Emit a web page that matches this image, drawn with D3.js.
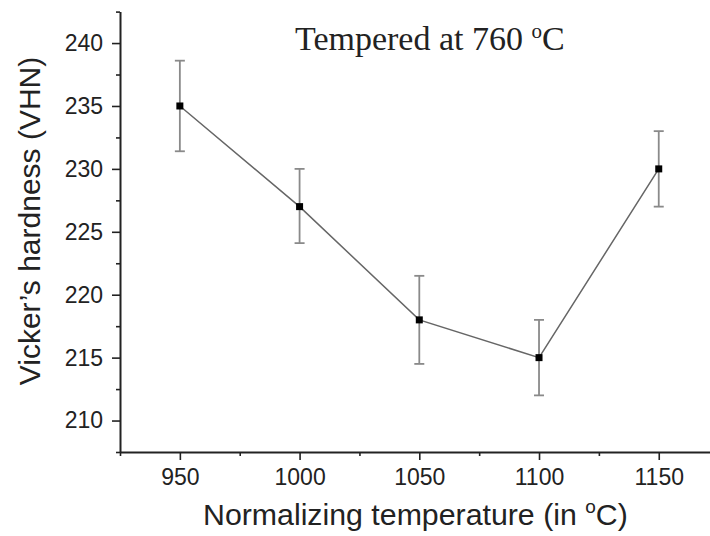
<!DOCTYPE html>
<html>
<head>
<meta charset="utf-8">
<script src="https://cdn.jsdelivr.net/npm/d3@7"></script>
<style>
  body { margin: 0; background: #fff; }
</style>
</head>
<body>
<div id="chart"></div>
<script>
// data
const temps = [950, 1000, 1050, 1100, 1150];
const hardness = [235, 227, 218, 215, 230];
const errUp = [3.6, 3.0, 3.5, 3.0, 3.0];
const errDown = [3.6, 2.9, 3.5, 3.0, 3.0];

const xTicks = [950, 1000, 1050, 1100, 1150];
const xMinor = [925, 975, 1025, 1075, 1125];
const yTicks = [210, 215, 220, 225, 230, 235, 240];
const yMinor = [207.5, 212.5, 217.5, 222.5, 227.5, 232.5, 237.5, 242.5];

const W = 710, H = 536;
const plotLeft = 120, plotBottom = 452, plotTop = 11.6;
const sans = '"Liberation Sans", Arial, sans-serif';

const svg = d3.select('#chart').append('svg')
  .attr('width', W)
  .attr('height', H);

const x = d3.scaleLinear().domain([925, 1175]).range([plotLeft, 718.6]);
const y = d3.scaleLinear().domain([207.5, 242.5]).range([plotBottom, plotTop]);

function styleAxis(g) {
  g.select('.domain').attr('stroke', '#222').attr('stroke-width', 2);
  g.selectAll('.tick line').attr('stroke', '#222').attr('stroke-width', 1.6);
  g.selectAll('.tick text')
    .attr('font-family', sans)
    .attr('font-size', 23)
    .attr('fill', '#222');
}

// minor ticks first, then major axes on top
svg.append('g')
  .attr('transform', `translate(0,${plotBottom})`)
  .call(d3.axisBottom(x).tickValues(xMinor).tickSize(4).tickFormat(''))
  .call(g => g.select('.domain').remove())
  .call(styleAxis);

svg.append('g')
  .attr('transform', `translate(${plotLeft},0)`)
  .call(d3.axisLeft(y).tickValues(yMinor).tickSize(4).tickFormat(''))
  .call(g => g.select('.domain').remove())
  .call(styleAxis);

svg.append('g')
  .attr('transform', `translate(0,${plotBottom})`)
  .call(d3.axisBottom(x).tickValues(xTicks).tickSize(8).tickSizeOuter(0).tickPadding(9).tickFormat(d3.format('d')))
  .call(styleAxis);

svg.append('g')
  .attr('transform', `translate(${plotLeft},0)`)
  .call(d3.axisLeft(y).tickValues(yTicks).tickSize(8).tickSizeOuter(0).tickPadding(9).tickFormat(d3.format('d')))
  .call(styleAxis);

const pts = temps.map((t, i) => ({ t: t, v: hardness[i], hi: hardness[i] + errUp[i], lo: hardness[i] - errDown[i] }));

// error bars
const eb = svg.append('g').attr('stroke', '#8a8a8a').attr('stroke-width', 1.8).attr('fill', 'none');
eb.selectAll('.eb-v').data(pts).enter().append('line')
  .attr('x1', d => x(d.t)).attr('x2', d => x(d.t))
  .attr('y1', d => y(d.hi)).attr('y2', d => y(d.lo));
eb.selectAll('.eb-top').data(pts).enter().append('line')
  .attr('x1', d => x(d.t) - 5).attr('x2', d => x(d.t) + 5)
  .attr('y1', d => y(d.hi)).attr('y2', d => y(d.hi));
eb.selectAll('.eb-bot').data(pts).enter().append('line')
  .attr('x1', d => x(d.t) - 5).attr('x2', d => x(d.t) + 5)
  .attr('y1', d => y(d.lo)).attr('y2', d => y(d.lo));

// connecting line
const line = d3.line().x(d => x(d.t)).y(d => y(d.v));
svg.append('path')
  .datum(pts)
  .attr('d', line)
  .attr('fill', 'none')
  .attr('stroke', '#666')
  .attr('stroke-width', 1.5);

// square markers
svg.selectAll('.pt').data(pts).enter().append('rect')
  .attr('x', d => x(d.t) - 3.5)
  .attr('y', d => y(d.v) - 3.5)
  .attr('width', 7).attr('height', 7)
  .attr('fill', '#000');

// title
const title = svg.append('text')
  .attr('x', 295).attr('y', 50)
  .attr('font-family', '"Liberation Serif", "Times New Roman", serif')
  .attr('font-size', 34)
  .attr('fill', '#222');
title.append('tspan').text('Tempered at 760 ');
title.append('tspan').attr('font-size', 21).attr('dy', -12).text('o');
title.append('tspan').attr('dy', 12).text('C');

// x label
const xl = svg.append('text')
  .attr('x', 203).attr('y', 525)
  .attr('font-family', sans)
  .attr('font-size', 30.3)
  .attr('fill', '#222');
xl.append('tspan').text('Normalizing temperature (in ');
xl.append('tspan').attr('font-size', 19).attr('dy', -12).text('o');
xl.append('tspan').attr('dy', 12).text('C)');

// y label
svg.append('text')
  .attr('transform', 'translate(40,221) rotate(-90)')
  .attr('text-anchor', 'middle')
  .attr('font-family', sans)
  .attr('font-size', 30)
  .attr('fill', '#222')
  .text('Vicker’s hardness (VHN)');
</script>
</body>
</html>
